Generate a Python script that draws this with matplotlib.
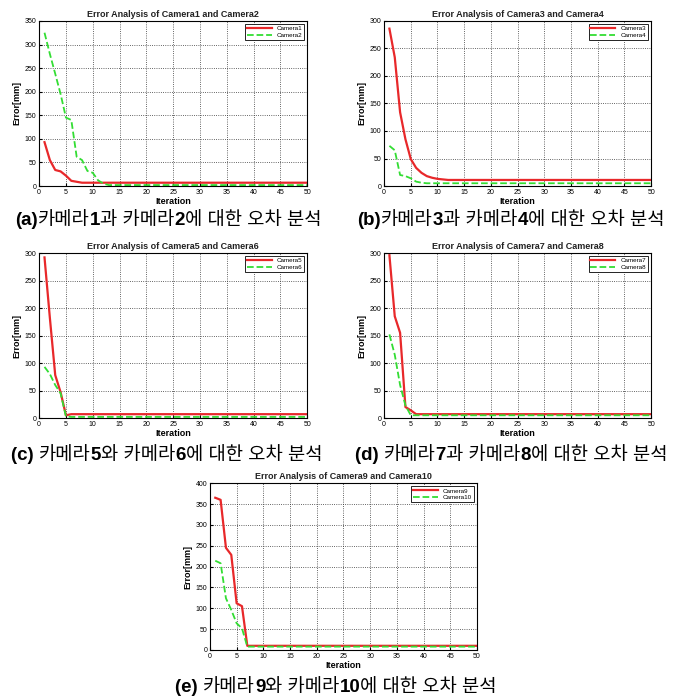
import matplotlib
matplotlib.use("Agg")
import matplotlib.pyplot as plt
from matplotlib.offsetbox import TextArea, HPacker, AnnotationBbox

iters = list(range(1, 51))

# first few iterations then flat
cam1 = [93, 55, 34, 31, 22, 11, 9, 7] + [7] * 42
cam2 = [325, 280, 238, 195, 145, 140, 62, 55, 32, 28, 12, 5, 2] + [2] * 37
cam3 = [286, 234, 134, 85, 49, 33, 24, 18, 15, 13, 12] + [11] * 39
cam4 = [73, 65, 20, 18, 14, 8, 6] + [5] * 43
cam5 = [292, 182, 78, 47, 5] + [7] * 45
cam6 = [93, 80, 60, 45, 3] + [2] * 45
cam7 = [296, 185, 155, 20, 14, 7] + [7] * 44
cam8 = [152, 115, 60, 23, 5] + [5] * 45
cam9 = [365, 360, 245, 228, 112, 105, 10] + [10] * 43
cam10 = [214, 208, 124, 96, 64, 52, 8] + [8] * 43

titles = ["Error Analysis of Camera1 and Camera2",
          "Error Analysis of Camera3 and Camera4",
          "Error Analysis of Camera5 and Camera6",
          "Error Analysis of Camera7 and Camera8",
          "Error Analysis of Camera9 and Camera10"]
names = [("Camera1", "Camera2"), ("Camera3", "Camera4"), ("Camera5", "Camera6"),
         ("Camera7", "Camera8"), ("Camera9", "Camera10")]
series = [(cam1, cam2), (cam3, cam4), (cam5, cam6), (cam7, cam8), (cam9, cam10)]
ymax = [350, 300, 300, 300, 400]

captions = [
    [("(a)", "bold"), ("카메라", "normal"), ("1", "bold"), ("과 카메라", "normal"), ("2", "bold"), ("에 대한 오차 분석", "normal")],
    [("(b)", "bold"), ("카메라", "normal"), ("3", "bold"), ("과 카메라", "normal"), ("4", "bold"), ("에 대한 오차 분석", "normal")],
    [("(c) ", "bold"), ("카메라", "normal"), ("5", "bold"), ("와 카메라", "normal"), ("6", "bold"), ("에 대한 오차 분석", "normal")],
    [("(d) ", "bold"), ("카메라", "normal"), ("7", "bold"), ("과 카메라", "normal"), ("8", "bold"), ("에 대한 오차 분석", "normal")],
    [("(e) ", "bold"), ("카메라", "normal"), ("9", "bold"), ("와 카메라", "normal"), ("10", "bold"), ("에 대한 오차 분석", "normal")],
]

plt.rcParams['font.family'] = ['Liberation Sans', 'DejaVu Sans']

fig = plt.figure(figsize=(6.75, 6.98), dpi=100)

boxes = [[0.058, 0.7335, 0.397, 0.2365],
         [0.569, 0.7335, 0.3956, 0.2365],
         [0.058, 0.4011, 0.397, 0.2364],
         [0.569, 0.4011, 0.3956, 0.2364],
         [0.311, 0.0688, 0.3956, 0.239]]
cap_pos = [(0.249, 0.684), (0.757, 0.684), (0.247, 0.348), (0.757, 0.348), (0.498, 0.003)]

red = '#e8282a'
green = '#33dd33'

for i in range(5):
    ax = fig.add_axes(boxes[i])
    a, b = series[i]
    ax.plot(iters, a, color=red, lw=1.6, label=names[i][0])
    ax.plot(iters, b, color=green, lw=1.3, ls='--', label=names[i][1])
    ax.set_xlim(0, 50)
    ax.set_ylim(0, ymax[i])
    ax.set_xticks(range(0, 51, 5))
    ax.set_yticks(range(0, ymax[i] + 1, 50))
    ax.tick_params(labelsize=5, length=2, direction='in', pad=2)
    ax.grid(True, color='#333333', ls=':', lw=0.6)
    for s in ax.spines.values():
        s.set_linewidth(0.8)
    ax.set_title(titles[i], fontsize=6.5, fontweight='bold', color='#222222', pad=3)
    ax.set_xlabel("Iteration", fontsize=6.5, fontweight='bold', labelpad=1)
    ax.set_ylabel("Error[mm]", fontsize=6.5, fontweight='bold', labelpad=2)
    leg = ax.legend(loc='upper right', fontsize=4.5, handlelength=4, fancybox=False,
                    framealpha=1, edgecolor='black', borderpad=0.3, labelspacing=0.2)
    leg.get_frame().set_linewidth(0.6)

    parts = []
    for txt, w in captions[i]:
        parts.append(TextArea(txt, textprops=dict(fontsize=13.5, fontweight=w,
                                                  family=['Liberation Sans', 'Noto Sans CJK KR'])))
    pack = HPacker(children=parts, pad=0, sep=0, align='baseline')
    ab = AnnotationBbox(pack, cap_pos[i], xycoords='figure fraction', frameon=False,
                        box_alignment=(0.5, 0.5) if i < 4 else (0.5, 0.0))
    fig.add_artist(ab)

fig.savefig("out.png", dpi=100)
